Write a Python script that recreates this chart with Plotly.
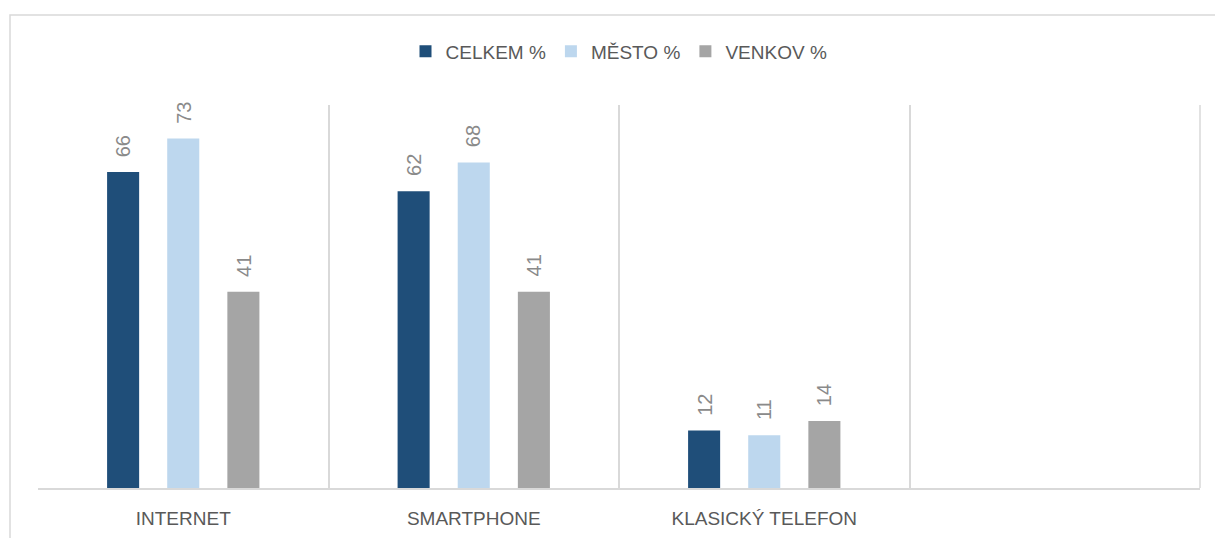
import plotly.graph_objects as go

categories = ["INTERNET", "SMARTPHONE", "KLASICKÝ TELEFON", " "]
series_names = ["CELKEM %", "MĚSTO %", "VENKOV %"]
celkem = [66, 62, 12, None]
mesto = [73, 68, 11, None]
venkov = [41, 41, 14, None]
colors = ["#1f4e79", "#bdd7ee", "#a5a5a5"]

values = [celkem, mesto, venkov]
FONT = "Liberation Sans, Arial, sans-serif"

fig = go.Figure()
for name, vals, col in zip(series_names, values, colors):
    fig.add_trace(go.Bar(x=categories, y=vals, name=name, marker_color=col,
                         marker_line_width=0))

# data labels (rotated, above bars)
slot_px = 60
for i, vals in enumerate(values):
    for cat, v in zip(categories, vals):
        if v is None:
            continue
        fig.add_annotation(x=cat, y=v, text=str(v), showarrow=False,
                           textangle=-90, xanchor="center", yanchor="bottom",
                           xshift=(i - 1) * slot_px, yshift=13,
                           font=dict(family=FONT, size=20, color="#8a8a8a"))

# outer chart border (partly cropped in reference)
fig.add_shape(type="rect", xref="paper", yref="paper",
              x0=-0.0241, x1=1.2, y0=-0.5, y1=1.235,
              line=dict(color="#d9d9d9", width=1.5), fillcolor="rgba(0,0,0,0)",
              layer="below")
# right-edge category boundary line
fig.add_shape(type="line", xref="paper", yref="paper", x0=1, x1=1, y0=0, y1=1,
              line=dict(color="#d9d9d9", width=1.5), layer="below")

fig.update_layout(
    width=1215, height=538,
    margin=dict(l=38, r=15, t=105, b=50, autoexpand=False),
    paper_bgcolor="white", plot_bgcolor="white",
    barmode="group", bargap=0.379, bargroupgap=0.467,
    font=dict(family=FONT, color="#595959"),
    legend=dict(orientation="h", x=0.5, xanchor="center", y=1.14,
                yanchor="middle", font=dict(family=FONT, size=19, color="#595959"),
                bgcolor="rgba(0,0,0,0)"),
    xaxis=dict(type="category", range=[-0.5, 3.5], tickson="boundaries",
               showgrid=True, gridcolor="#d9d9d9", gridwidth=1.5,
               showline=True, linecolor="#d9d9d9", linewidth=1.5,
               ticks="", ticklabelstandoff=12, automargin=False,
               tickfont=dict(family=FONT, size=19, color="#595959")),
    yaxis=dict(range=[0, 80], visible=False, showgrid=False, zeroline=False),
)

fig.write_html("out.html", config={"displayModeBar": False},
               post_script="document.body.style.margin='0';document.body.style.overflow='hidden';")
